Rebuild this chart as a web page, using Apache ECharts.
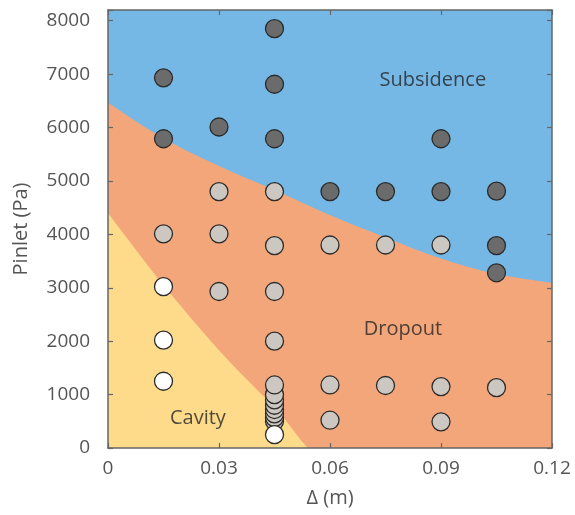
<!DOCTYPE html>
<html><head><meta charset="utf-8">
<script src="https://cdn.jsdelivr.net/npm/echarts@6/dist/echarts.min.js"></script>
<style>html,body{margin:0;padding:0;background:#fff}#c{width:575px;height:515px}</style>
</head><body><div id="c"></div>
<script>
// Region boundaries [Δ (m), Pinlet (Pa)]
const subsidenceBoundary = [[0,6470],[0.015,5800],[0.03,5280],[0.045,4830],[0.06,4360],[0.075,3940],[0.09,3550],[0.105,3260],[0.12,3090]];
const cavityBoundary = [[0,4400],[0.015,3050],[0.03,1830],[0.04,1110],[0.045,770],[0.049,430],[0.052,160],[0.054,0]];
// Observations
const subsidencePts = [[0.015,6930],[0.015,5790],[0.03,6010],[0.045,7850],[0.045,6810],[0.045,5790],[0.06,4800],[0.075,4800],[0.09,4800],[0.09,5790],[0.105,4810],[0.105,3790],[0.105,3280]];
const dropoutPts = [[0.015,4010],[0.03,4800],[0.03,4010],[0.03,2930],[0.045,4800],[0.045,3790],[0.045,2930],[0.045,2000],[0.045,500],[0.045,570],[0.045,640],[0.045,720],[0.045,800],[0.045,900],[0.045,1000],[0.045,1180],[0.06,3800],[0.075,3800],[0.09,3800],[0.06,1180],[0.075,1170],[0.09,1150],[0.105,1130],[0.06,520],[0.09,490]];
const cavityPts = [[0.015,3020],[0.015,2020],[0.015,1250],[0.045,250]];
const regionLabels = [[0.0878,6890,'Subsidence'],[0.0797,2228,'Dropout'],[0.0243,562,'Cavity']];
const xTicks = [0,0.03,0.06,0.09,0.12];

const FONT = '"Open Sans", "Noto Sans", sans-serif';
const chart = echarts.init(document.getElementById('c'));
const axLine = {show:true, onZero:false, lineStyle:{color:'#666', width:1.5}};
const tick = {show:true, inside:true, length:5, lineStyle:{color:'#666',width:1.2}};
const dotStyle = (fill) => ({color:fill, borderColor:'#2b2b2b', borderWidth:1.3, opacity:1});
chart.setOption({
  animation:false,
  grid:{left:108, top:10, right:23, bottom:67, show:true, backgroundColor:'#75b8e5', borderWidth:0},
  xAxis:[{
    type:'value', min:0, max:0.12, interval:0.03, position:'bottom', zlevel:1, z:10,
    axisLine:axLine, axisTick:tick, splitLine:{show:false},
    axisLabel:{color:'#555', fontSize:19, fontFamily:FONT, margin:11, formatter:v=>xTicks.includes(+v.toFixed(2))?String(+v.toFixed(2)):''},
    name:'Δ (m)', nameLocation:'middle', nameGap:40, nameTextStyle:{color:'#555', fontSize:20, fontFamily:FONT}
  },{
    type:'value', min:0, max:0.12, interval:0.03, position:'top', zlevel:1, z:10,
    axisLine:axLine, axisTick:tick, axisLabel:{show:false}, splitLine:{show:false}
  }],
  yAxis:[{
    type:'value', min:0, max:8200, interval:1000, position:'left', zlevel:1, z:10,
    axisLine:axLine, axisTick:tick, splitLine:{show:false},
    axisLabel:{color:'#555', fontSize:19, fontFamily:FONT, margin:18, formatter:v=>v%1000===0?String(v):''},
    name:'Pinlet (Pa)', nameLocation:'middle', nameGap:77, nameTextStyle:{color:'#555', fontSize:20, fontFamily:FONT}
  },{
    type:'value', min:0, max:8200, interval:1000, position:'right', zlevel:1, z:10,
    axisLine:axLine, axisTick:tick, axisLabel:{show:false}, splitLine:{show:false}
  }],
  series:[
    {type:'line', data:subsidenceBoundary, smooth:0.4, symbol:'none', lineStyle:{width:0}, areaStyle:{color:'#f3a67a', opacity:1}, z:1},
    {type:'line', data:cavityBoundary, smooth:0.3, symbol:'none', lineStyle:{width:0}, areaStyle:{color:'#fddb8b', opacity:1}, z:2},
    {type:'scatter', data:subsidencePts, symbolSize:18, itemStyle:dotStyle('#6b6b6b'), z:5},
    {type:'scatter', data:dropoutPts, symbolSize:18, itemStyle:dotStyle('#ccc8c1'), z:5},
    {type:'scatter', data:cavityPts, symbolSize:18, itemStyle:dotStyle('#ffffff'), z:6},
    {type:'scatter', data:regionLabels.map(r=>({value:[r[0],r[1]], name:r[2]})), symbolSize:0, z:7,
     label:{show:true, position:'inside', formatter:p=>p.name, color:'#262626', fontSize:20, fontFamily:FONT}}
  ]
});
</script></body></html>
